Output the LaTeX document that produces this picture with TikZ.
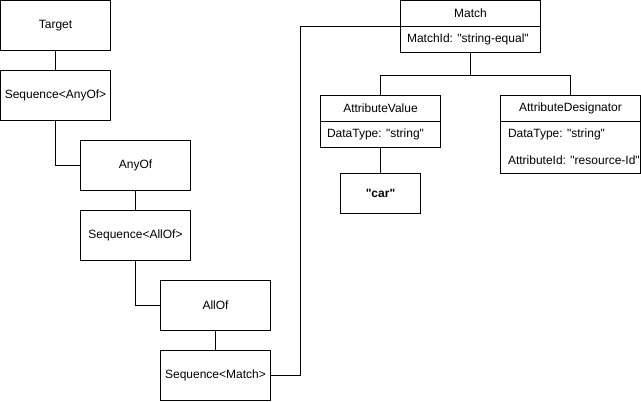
\documentclass[tikz,border=0pt]{standalone}
\usepackage{fontspec}
\setmainfont{Liberation Sans}[Ligatures=TeXOff]
\begin{document}
\begin{tikzpicture}[x=0.75pt,y=-0.75pt,line width=0.75pt,
  txt/.style={inner sep=0pt,font=\fontsize{9}{11}\selectfont},
  box/.style={draw,inner sep=0pt,minimum width=82.5pt,minimum height=37.5pt,font=\fontsize{9}{11}\selectfont},
  frame/.style={draw,inner sep=0pt}]
\useasboundingbox (0,0) rectangle (641,401);
\begin{scope}[shift={(0.5,0.5)}]
% left chain
\node[box] (target)   at (55,25)   {Target};
\node[box] (seqany)   at (55,95)   {Sequence<AnyOf>};
\node[box] (anyof)    at (135,165) {AnyOf};
\node[box] (seqall)   at (135,235) {Sequence<AllOf>};
\node[box] (allof)    at (215,305) {AllOf};
\node[box] (seqmatch) at (215,375) {Sequence<Match>};
% Match
\node[frame,minimum width=105pt,minimum height=39pt] (match) at (470,26) {};
\draw (match.west |- 0,26) coordinate (mdl) -- (match.east |- 0,26) coordinate (mdr);
\node[txt] (matcht) at (470,13) {Match};
\node[txt,anchor=west] (matchid) at (406,39) {MatchId: "string-equal"};
% AttributeValue
\node[frame,minimum width=90pt,minimum height=39pt] (av) at (380,121) {};
\draw (av.west |- 0,121) coordinate (avl) -- (av.east |- 0,121) coordinate (avr);
\node[txt] (avt) at (380,108) {AttributeValue};
\node[txt,anchor=west] (avdt) at (326,134) {DataType: "string"};
% AttributeDesignator
\node[frame,minimum width=105pt,minimum height=58.5pt] (ad) at (570,134) {};
\draw (ad.west |- 0,121) coordinate (adl) -- (ad.east |- 0,121) coordinate (adr);
\node[txt] (adt) at (570,108) {AttributeDesignator};
\node[txt,anchor=west] (addt) at (507,134) {DataType: "string"};
\node[txt,anchor=west] (adid) at (507,160) {AttributeId: "resource-Id"};
% car
\node[frame,minimum width=60pt,minimum height=30pt,font=\fontsize{9}{11}\selectfont\bfseries] (car) at (380,193) {"car"};
% connectors
\draw (target.south) -- (seqany.north);
\draw (seqany.south) |- (anyof.west);
\draw (anyof.south) -- (seqall.north);
\draw (seqall.south) |- (allof.west);
\draw (allof.south) -- (seqmatch.north);
\coordinate (jm) at (300,26);
\draw (seqmatch.east) -| (jm) -- (mdl);
\coordinate (bus) at (470,75);
\draw (match.south) -- (bus);
\draw (av.north) |- (bus) -| (ad.north);
\draw (av.south) -- (car.north);
\end{scope}
\end{tikzpicture}
\end{document}
